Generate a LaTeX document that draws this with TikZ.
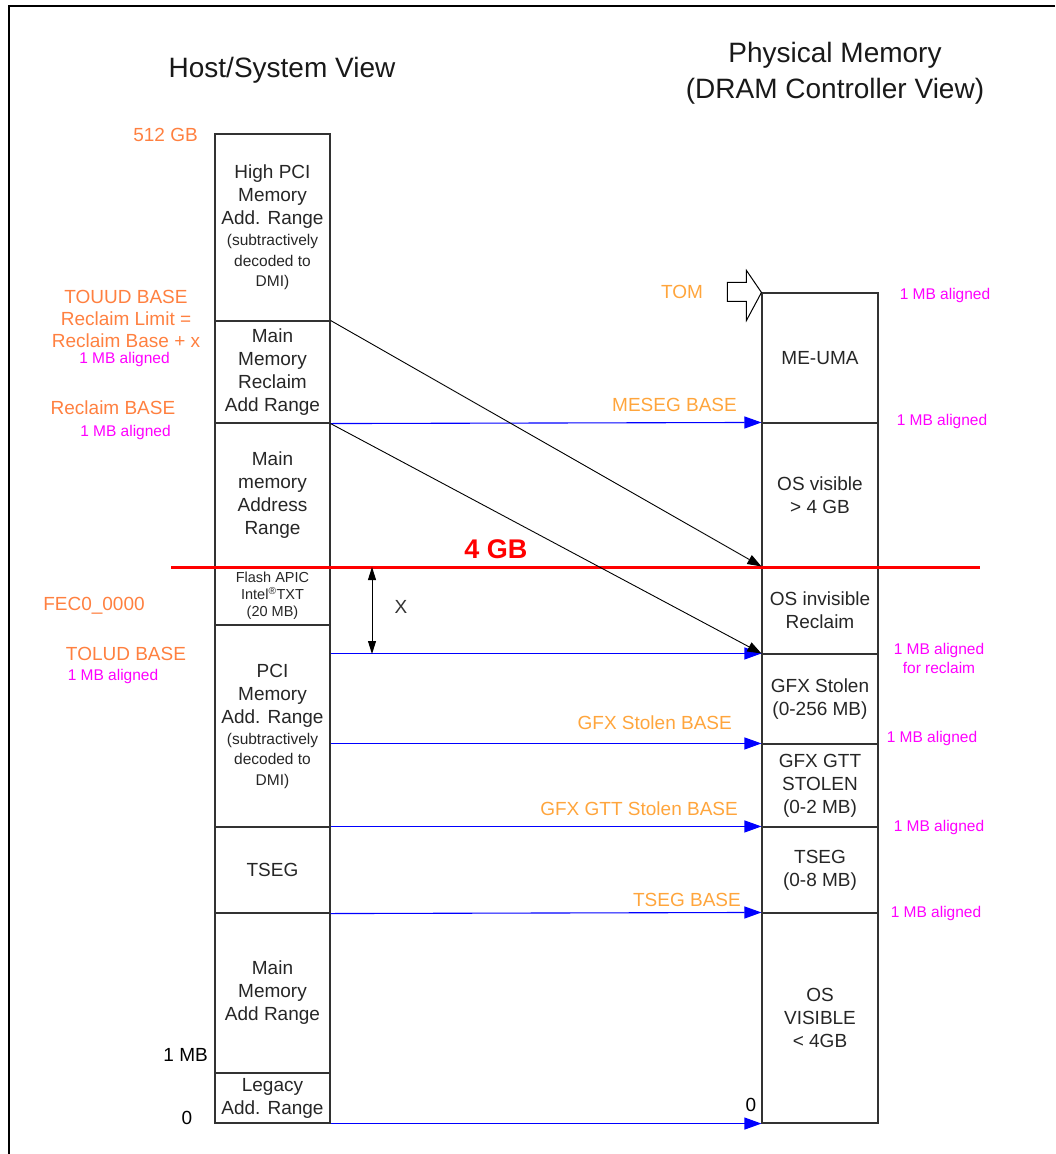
\documentclass[tikz,border=0pt]{standalone}
\usepackage{fontspec}
\setmainfont{Liberation Sans}
\usetikzlibrary{arrows.meta}
\definecolor{lblorange}{RGB}{255,128,64}
\definecolor{baseorange}{RGB}{255,165,60}
\definecolor{alignpink}{RGB}{255,0,255}
\definecolor{boxline}{RGB}{50,50,50}
\newcommand\smtxt[1]{{\fontsize{15.5}{20}\selectfont #1}}
\begin{document}
\begin{tikzpicture}[x=1pt,y=-1pt,
  font=\fontsize{19}{23}\selectfont,
  mem/.style={draw=boxline,line width=1.1pt,minimum width=115,minimum height=#1,
    inner sep=0pt,align=center,text=black!85},
  pmem/.style={mem=#1,minimum width=116},
  lbl/.style={text=lblorange,inner sep=0pt,align=center},
  basel/.style={text=baseorange,inner sep=0pt,anchor=east},
  algn/.style={text=alignpink,inner sep=0pt,align=center,font=\fontsize{15.5}{19}\selectfont},
  title/.style={inner sep=0pt,align=center,text=black!90,font=\fontsize{28}{36}\selectfont},
  blarrow/.style={draw=blue,line width=1.1pt,-{Triangle[length=17pt,width=12pt]}},
  dgarrow/.style={draw=black,line width=0.9pt,-{Triangle[length=14pt,width=10pt]}},
  xarrow/.style={draw=black,line width=0.9pt,{Triangle[length=13pt,width=8pt]}-{Triangle[length=13pt,width=8pt]}}]
\useasboundingbox (0,0) rectangle (1055,1154);
\draw[line width=2pt] (9,1154) -- (9,6) -- (1055,6);

\node[title] (hosttitle) at (282,70) {Host/System View};
\node[title] (phystitle) at (835,73) {Physical Memory\\(DRAM Controller View)};

\node[mem=187] (hipci) at (272.5,227.5) {High PCI\\Memory\\Add. Range\\[-2pt]\smtxt{(subtractively}\\[-2.5pt]\smtxt{decoded to}\\[-2.5pt]\smtxt{DMI)}};
\node[mem=102] (reclaim) at (272.5,372) {Main\\Memory\\Reclaim\\Add Range};
\node[mem=144] (mainaddr) at (272.5,495) {Main\\memory\\Address\\Range};
\node[mem=58,font=\fontsize{14.5}{17}\selectfont] (flash) at (272.5,596) {Flash APIC\\Intel\textsuperscript{\textregistered}TXT\\(20 MB)};
\node[mem=202] (pci) at (272.5,726) {PCI\\Memory\\Add. Range\\[-2pt]\smtxt{(subtractively}\\[-2.5pt]\smtxt{decoded to}\\[-2.5pt]\smtxt{DMI)}};
\node[mem=86] (tseg) at (272.5,870) {TSEG};
\node[mem=160] (mainadd) at (272.5,993) {Main\\Memory\\Add Range};
\node[mem=50] (legacy) at (272.5,1098) {Legacy\\Add. Range};

\node[pmem=130] (meuma) at (820,358) {ME-UMA};
\node[pmem=144] (osvis) at (820,495) {OS visible\\> 4 GB};
\node[pmem=87] (osinv) at (820,610.5) {OS invisible\\Reclaim};
\node[pmem=90] (gfxst) at (820,699) {GFX Stolen\\(0-256 MB)};
\node[pmem=83] (gtt) at (820,785.5) {GFX GTT\\STOLEN\\(0-2 MB)};
\node[pmem=86] (rtseg) at (820,870) {TSEG\\(0-8 MB)};
\node[pmem=210] (oslow) at (820,1018) {OS\\VISIBLE\\< 4GB};

\draw[line width=1pt,fill=white,shift={(meuma.north west)}]
  (-34,-10) -- (-15,-10) -- (-15,-22) -- (0,0) -- (-15,28) -- (-15,9) -- (-34,9) -- cycle;
\node[basel,anchor=center] (tom) at (682,292) {TOM};

\node[lbl,anchor=east] (gb512) at (198,135) {512 GB};
\node[lbl,font=\fontsize{19}{22}\selectfont] (touud) at (126,319) {TOUUD BASE\\Reclaim Limit =\\Reclaim Base + x};
\node[algn] (touudal) at (124.5,359) {1 MB aligned};
\node[lbl] (rcbase) at (113,408) {Reclaim BASE};
\node[algn] (rcbaseal) at (125.5,432) {1 MB aligned};
\node[lbl] (fec) at (94,606) {FEC0\_0000};
\node[lbl] (tolud) at (126,654) {TOLUD BASE};
\node[algn] (toludal) at (113,676) {1 MB aligned};
\node[inner sep=0pt,anchor=east] (mb1) at (208,1055) {1 MB};
\node[inner sep=0pt] (zerol) at (187,1118) {0};

\coordinate (fourl) at (171,567);
\coordinate (fourr) at (980,567);
\draw[red,line width=3pt] (fourl) -- (fourr);
\node[text=red,inner sep=0pt,font=\fontsize{27}{30}\selectfont\bfseries] (gb4) at (496,549) {4 GB};

\draw[blarrow] (reclaim.south east) -- (osvis.north west);
\draw[blarrow] (pci.east |- gfxst.north) -- (gfxst.north west);
\draw[blarrow] (pci.east |- gtt.north) -- (gtt.north west);
\draw[blarrow] (tseg.north east) -- (rtseg.north west);
\draw[blarrow] (tseg.south east) -- (oslow.north west);
\draw[blarrow] (legacy.south east) -- (oslow.south west);
\draw[dgarrow] (reclaim.north east) -- (osinv.north west);
\draw[dgarrow] (reclaim.south east) -- (gfxst.north west);

\coordinate (xtop) at (372,567);
\coordinate (xbot) at (372,654);
\draw[xarrow] (xtop) -- (xbot);
\node[inner sep=0pt,text=black!80] (xlbl) at (401,607) {X};

\node[basel] (meseg) at (737,405) {MESEG BASE};
\node[basel] (gfxbase) at (732,723) {GFX Stolen BASE};
\node[basel] (gttbase) at (738,809) {GFX GTT Stolen BASE};
\node[basel] (tsegbase) at (741,900) {TSEG BASE};
\node[inner sep=0pt] (zeror) at (751,1105) {0};

\node[algn] (al1) at (945,295) {1 MB aligned};
\node[algn] (al2) at (942,421) {1 MB aligned};
\node[algn] (al3) at (939,658) {1 MB aligned\\for reclaim};
\node[algn] (al4) at (932,738) {1 MB aligned};
\node[algn] (al5) at (939,827) {1 MB aligned};
\node[algn] (al6) at (936,913) {1 MB aligned};
\end{tikzpicture}
\end{document}
